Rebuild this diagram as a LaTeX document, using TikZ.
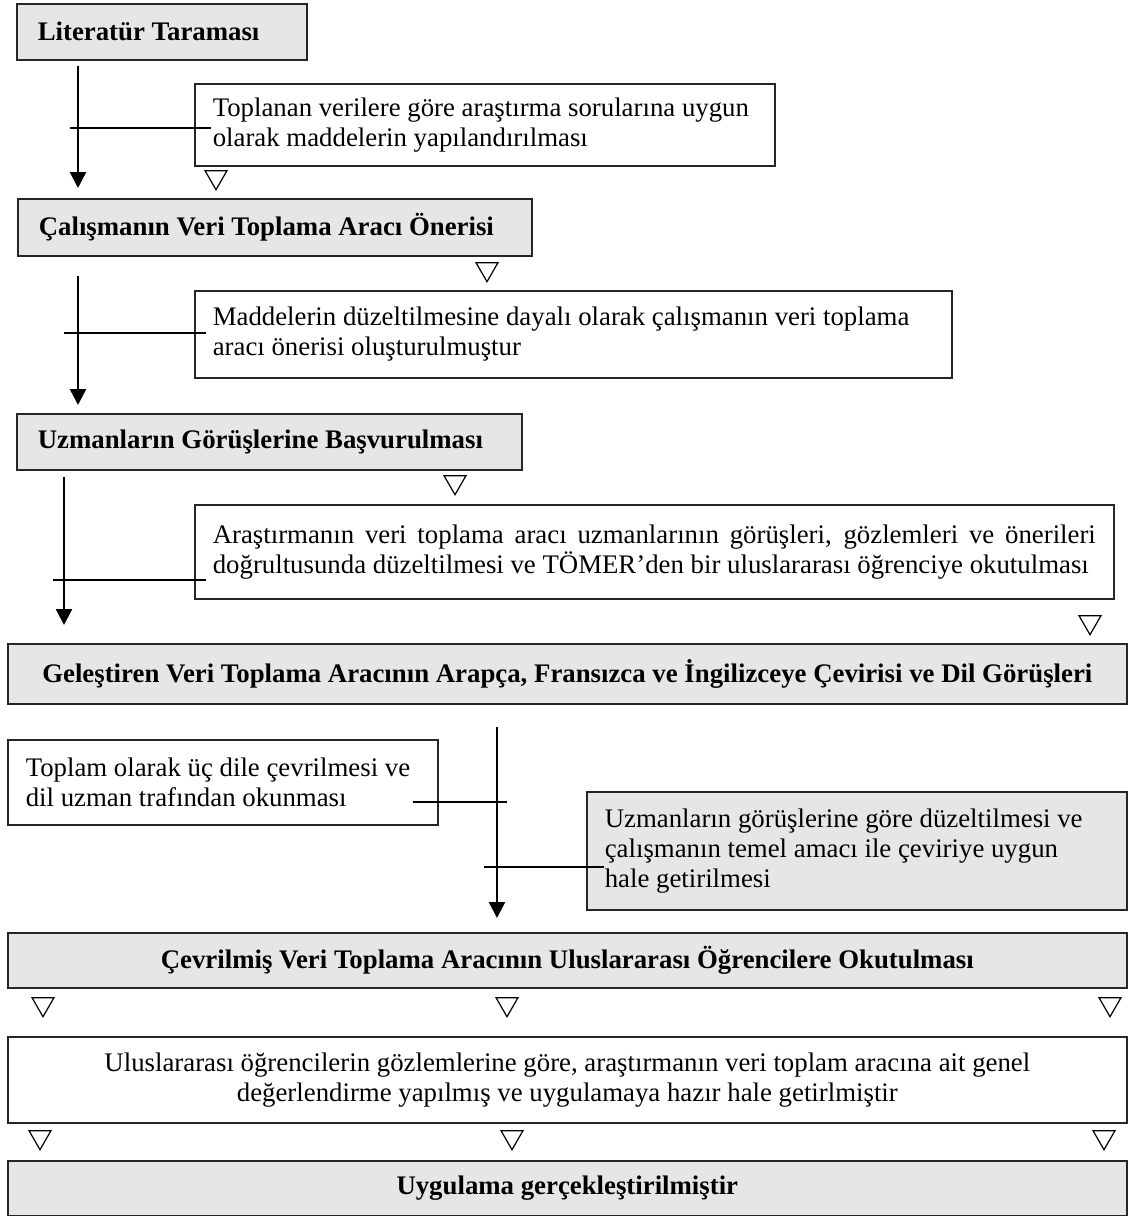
\documentclass[tikz,border=0pt]{standalone}
\usepackage{fontspec}
\setmainfont{Liberation Serif}
\usepackage{tikz}
\usetikzlibrary{arrows.meta,calc,shapes.geometric}
\definecolor{stageCol}{HTML}{E6E6E6}
\definecolor{stageEdge}{HTML}{262626}
\newcommand{\figfont}{\fontsize{13.4}{15}\selectfont}
\newcommand{\stagefont}{\fontsize{13.4}{15}\selectfont\bfseries}
\hyphenpenalty=10000
\exhyphenpenalty=10000
\tikzset{
  plainspace/.style={execute at begin node={\spaceskip=0pt \xspaceskip=0pt}},
  stage/.style={draw=stageEdge, fill=stageCol, line width=0.8pt, anchor=north west,
        inner xsep=10.5pt, inner ysep=0pt, align=left, font=\stagefont, plainspace},
  wide/.style={draw=stageEdge, fill=stageCol, line width=0.8pt, anchor=north west,
        minimum width=559.5pt, inner sep=0pt, align=center, font=\stagefont},
  note/.style={draw=stageEdge, fill=white, line width=0.8pt, anchor=north west,
        inner xsep=9pt, inner ysep=0pt, align=left, font=\figfont, plainspace},
  flow/.style={-{Triangle[length=8pt,width=8pt]}, line width=1.2pt},
  tick/.style={line width=0.9pt},
  tri/.style={draw, regular polygon, regular polygon sides=3, shape border rotate=180,
        minimum size=12.7pt, inner sep=0pt, line width=0.6pt},
}
\begin{document}
\begin{tikzpicture}[x=0.5pt,y=-0.5pt]
  \path[use as bounding box, fill=white] (0,0) rectangle (1128,1216);
  % stages (gray) and notes (white)
  \node[stage, text width=124pt, minimum height=28pt] (lit) at (16,3) {Literatür Taraması};
  \node[note, text width=272pt, minimum height=41pt] (tpl) at (194,83)
        {Toplanan verilere göre araştırma sorularına uygun\\olarak maddelerin yapılandırılması};
  \node[stage, text width=236pt, minimum height=28.5pt] (cal) at (17,198) {Çalışmanın Veri Toplama Aracı Önerisi};
  \node[note, text width=360.5pt, minimum height=43.5pt] (mad) at (194,290)
        {Maddelerin düzeltilmesine dayalı olarak çalışmanın veri toplama\\aracı önerisi oluşturulmuştur};
  \node[stage, text width=231.5pt, minimum height=28pt] (uzm) at (16,413) {Uzmanların Görüşlerine Başvurulması};
  \node[note, align=justify, text width=441.5pt, minimum height=47pt] (ara) at (194,504)
        {Araştırmanın veri toplama aracı uzmanlarının görüşleri, gözlemleri ve önerileri\linebreak
         doğrultusunda düzeltilmesi ve TÖMER’den bir uluslararası öğrenciye okutulması};
  \node[wide, minimum height=30pt] (gel) at (7,643)
        {Geleştiren Veri Toplama Aracının Arapça, Fransızca ve İngilizceye Çevirisi ve Dil Görüşleri};
  \node[note, text width=197pt, minimum height=42.5pt] (top) at (7,739)
        {Toplam olarak üç dile çevrilmesi ve\\dil uzman trafından okunması};
  \node[note, fill=stageCol, text width=252pt, minimum height=59pt] (duz) at (586,791)
        {Uzmanların görüşlerine göre düzeltilmesi ve\\çalışmanın temel amacı ile çeviriye uygun\\hale getirilmesi};
  \node[wide, minimum height=27.5pt] (cev) at (7,932)
        {Çevrilmiş Veri Toplama Aracının Uluslararası Öğrencilere Okutulması};
  \node[wide, fill=white, font=\figfont, minimum height=43pt] (deg) at (7,1036)
        {Uluslararası öğrencilerin gözlemlerine göre, araştırmanın veri toplam aracına ait genel\\
         değerlendirme yapılmış ve uygulamaya hazır hale getirlmiştir};
  \node[wide, minimum height=27.5pt] (uyg) at (7,1160) {Uygulama gerçekleştirilmiştir};
  % arrow columns
  \coordinate (c1) at (78,0);
  \coordinate (c3) at (64,0);
  \coordinate (c4) at (497,0);
  \draw[flow, shorten <=2.5pt, shorten >=5pt] (c1 |- lit.south) -- (c1 |- cal.north);
  \draw[flow, shorten <=9.5pt, shorten >=4pt] (c1 |- cal.south) -- (c1 |- uzm.north);
  \draw[flow, shorten <=3pt, shorten >=9pt] (c3 |- uzm.south) -- (c3 |- gel.north);
  \draw[flow, shorten <=11pt, shorten >=7pt] (c4 |- gel.south) -- (c4 |- cev.north);
  % side links
  \draw[tick] ($(c1 |- tpl.west)+(-8,3)$) -- ($(tpl.west)+(17,3)$);
  \draw[tick] ($(c1 |- mad.west)+(-14,-1.5)$) -- ($(mad.west)+(12,-1.5)$);
  \draw[tick] ($(c3 |- ara.west)+(-11,28)$) -- ($(ara.west)+(12,28)$);
  \draw[tick] ($(top.east)+(-26,19.5)$) -- ($(c4 |- top.east)+(10,19.5)$);
  \draw[tick] ($(c4 |- duz.west)+(-13,16)$) -- ($(duz.west)+(18,16)$);
  % open triangles
  \foreach \x/\y [count=\i] in {216/177, 487/269, 455/482, 1090/622,
                                43/1004, 507/1004, 1110/1004,
                                40/1137, 512/1137, 1104/1137}
    \node[tri] (t\i) at (\x,\y) {};
\end{tikzpicture}
\end{document}
